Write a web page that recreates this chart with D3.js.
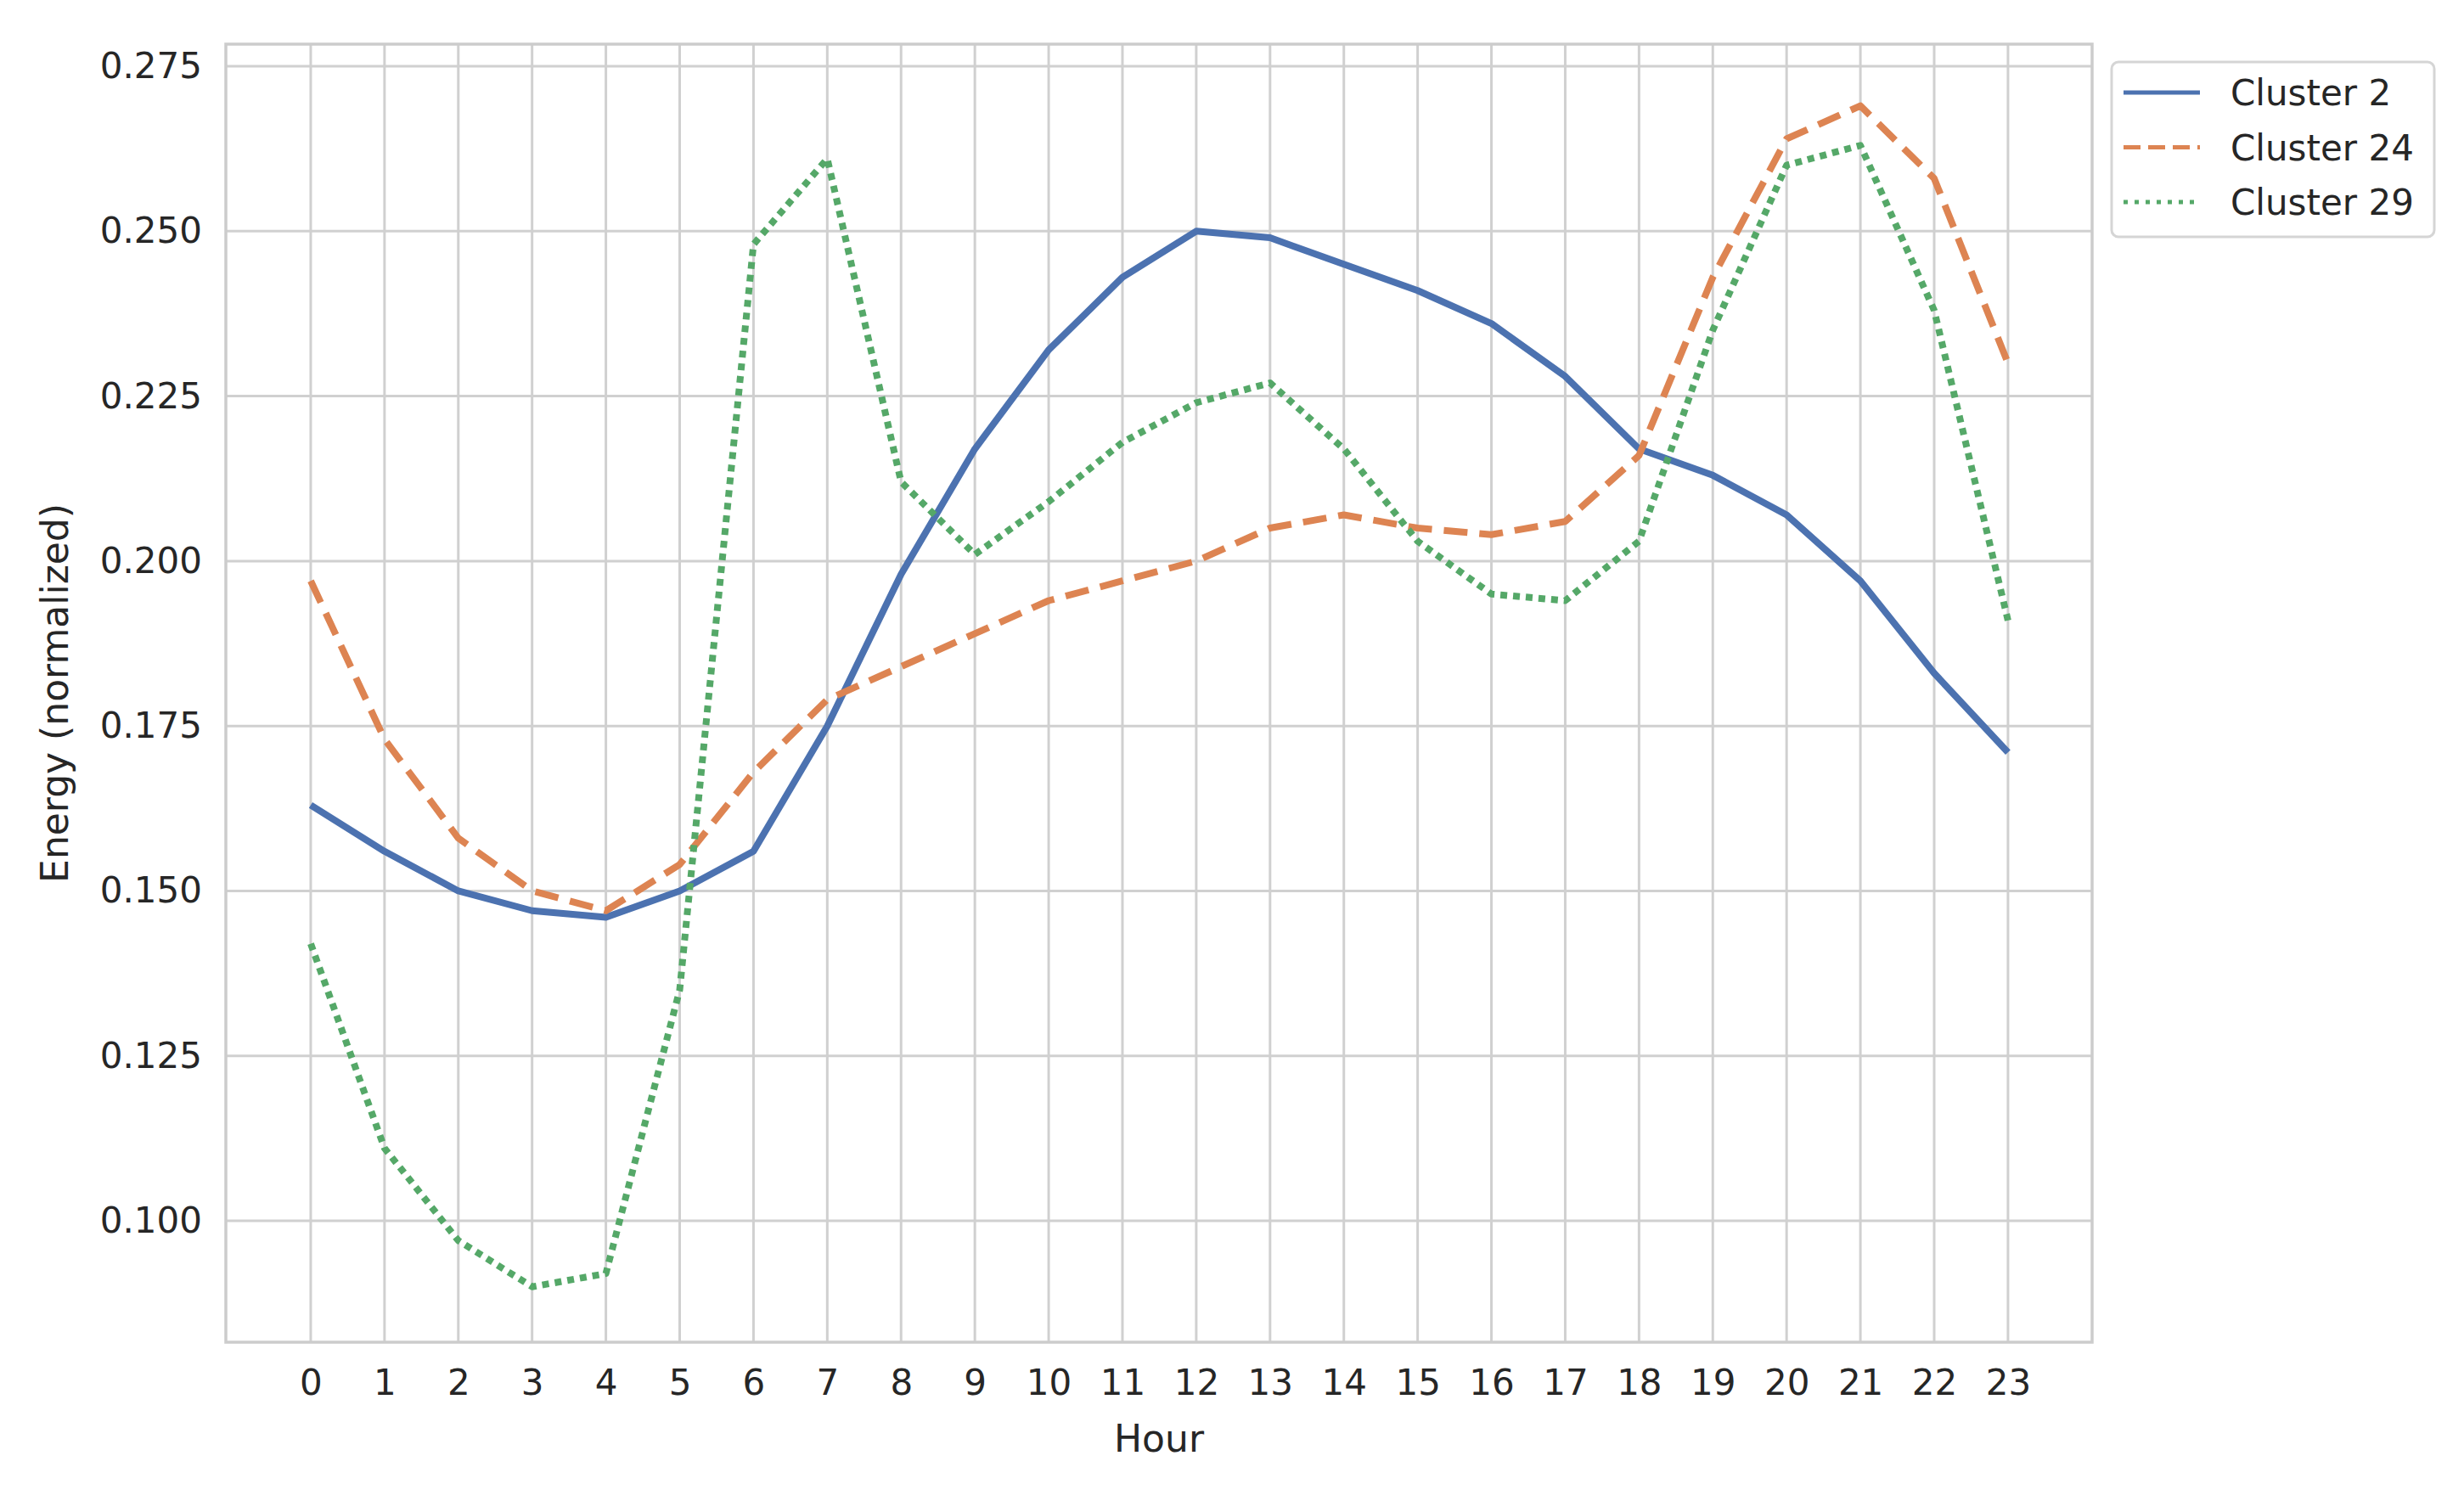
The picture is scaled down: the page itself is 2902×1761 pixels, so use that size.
<!DOCTYPE html>
<html><head><meta charset="utf-8">
<script src="https://cdn.jsdelivr.net/npm/d3@7"></script>
<style>body{margin:0;background:#fff}</style></head>
<body><svg id="c" width="2902" height="1761"></svg>
<script>
const hours = d3.range(0,24);
const seriesNames = ["Cluster 2","Cluster 24","Cluster 29"];
const cluster2 = [0.163,0.156,0.150,0.147,0.146,0.150,0.156,0.175,0.198,0.217,0.232,0.243,0.250,0.249,0.245,0.241,0.236,0.228,0.217,0.213,0.207,0.197,0.183,0.171];
const cluster24 = [0.197,0.173,0.158,0.150,0.147,0.154,0.168,0.179,0.184,0.189,0.194,0.197,0.200,0.205,0.207,0.205,0.204,0.206,0.216,0.243,0.264,0.269,0.258,0.230];
const cluster29 = [0.142,0.111,0.097,0.090,0.092,0.135,0.248,0.261,0.212,0.201,0.209,0.218,0.224,0.227,0.217,0.203,0.195,0.194,0.203,0.235,0.260,0.263,0.238,0.191];
const yTicks = [0.100,0.125,0.150,0.175,0.200,0.225,0.250,0.275];
const colors = ["#4c72b0","#dd8452","#55a868"];
const dashes = [null,"28,14","8,7"];
const legendDashes = [null,"20,9","5,8"];
const data = [cluster2,cluster24,cluster29];

const L=266,R=2464,T=52,B=1581;
const svg=d3.select("#c");
const x=d3.scaleLinear().domain([-1.15,24.14]).range([L,R]);
const y=d3.scaleLinear().domain([0.0816,0.27835]).range([B,T]);
const font="DejaVu Sans";
const grid=svg.append("g");
hours.forEach(h=>grid.append("line").attr("x1",x(h)).attr("x2",x(h)).attr("y1",T).attr("y2",B).attr("stroke","#d0d0d0").attr("stroke-width",3));
yTicks.forEach(v=>grid.append("line").attr("x1",L).attr("x2",R).attr("y1",y(v)).attr("y2",y(v)).attr("stroke","#d0d0d0").attr("stroke-width",3));
svg.append("rect").attr("x",L).attr("y",T).attr("width",R-L).attr("height",B-T).attr("fill","none").attr("stroke","#cccccc").attr("stroke-width",3.5);

const xa=svg.append("g").attr("transform",`translate(0,${B})`).call(d3.axisBottom(x).tickValues(hours).tickFormat(d3.format("d")).tickSize(0).tickPadding(32));
const ya=svg.append("g").attr("transform",`translate(${L},0)`).call(d3.axisLeft(y).tickValues(yTicks).tickFormat(d3.format(".3f")).tickSize(0).tickPadding(28));
[xa,ya].forEach(a=>{a.select(".domain").remove();a.selectAll("text").attr("font-family",font).attr("font-size",42).attr("fill","#262626");});

svg.append("text").attr("x",(L+R)/2).attr("y",1710).attr("text-anchor","middle").attr("font-family",font).attr("font-size",44).attr("fill","#262626").text("Hour");
svg.append("text").attr("transform",`translate(80,${(T+B)/2}) rotate(-90)`).attr("text-anchor","middle").attr("font-family",font).attr("font-size",44).attr("fill","#262626").text("Energy (normalized)");

const line=d3.line().x((d,i)=>x(hours[i])).y(d=>y(d));
data.forEach((s,k)=>{
  const p=svg.append("path").attr("d",line(s)).attr("fill","none").attr("stroke",colors[k]).attr("stroke-width",8).attr("stroke-linejoin","round");
  if(dashes[k]) p.attr("stroke-dasharray",dashes[k]);
});

const lg=svg.append("g");
lg.append("rect").attr("x",2487).attr("y",73).attr("width",380).attr("height",206).attr("rx",8).attr("fill","#fff").attr("stroke","#d5d5d5").attr("stroke-width",3);
seriesNames.forEach((n,k)=>{
  const yy=109+k*64.5;
  const l=lg.append("line").attr("x1",2501).attr("x2",2591).attr("y1",yy).attr("y2",yy).attr("stroke",colors[k]).attr("stroke-width",5);
  if(legendDashes[k]) l.attr("stroke-dasharray",legendDashes[k]);
  lg.append("text").attr("x",2627).attr("y",yy+15).attr("font-family",font).attr("font-size",42).attr("fill","#262626").text(n);
});
</script></body></html>
